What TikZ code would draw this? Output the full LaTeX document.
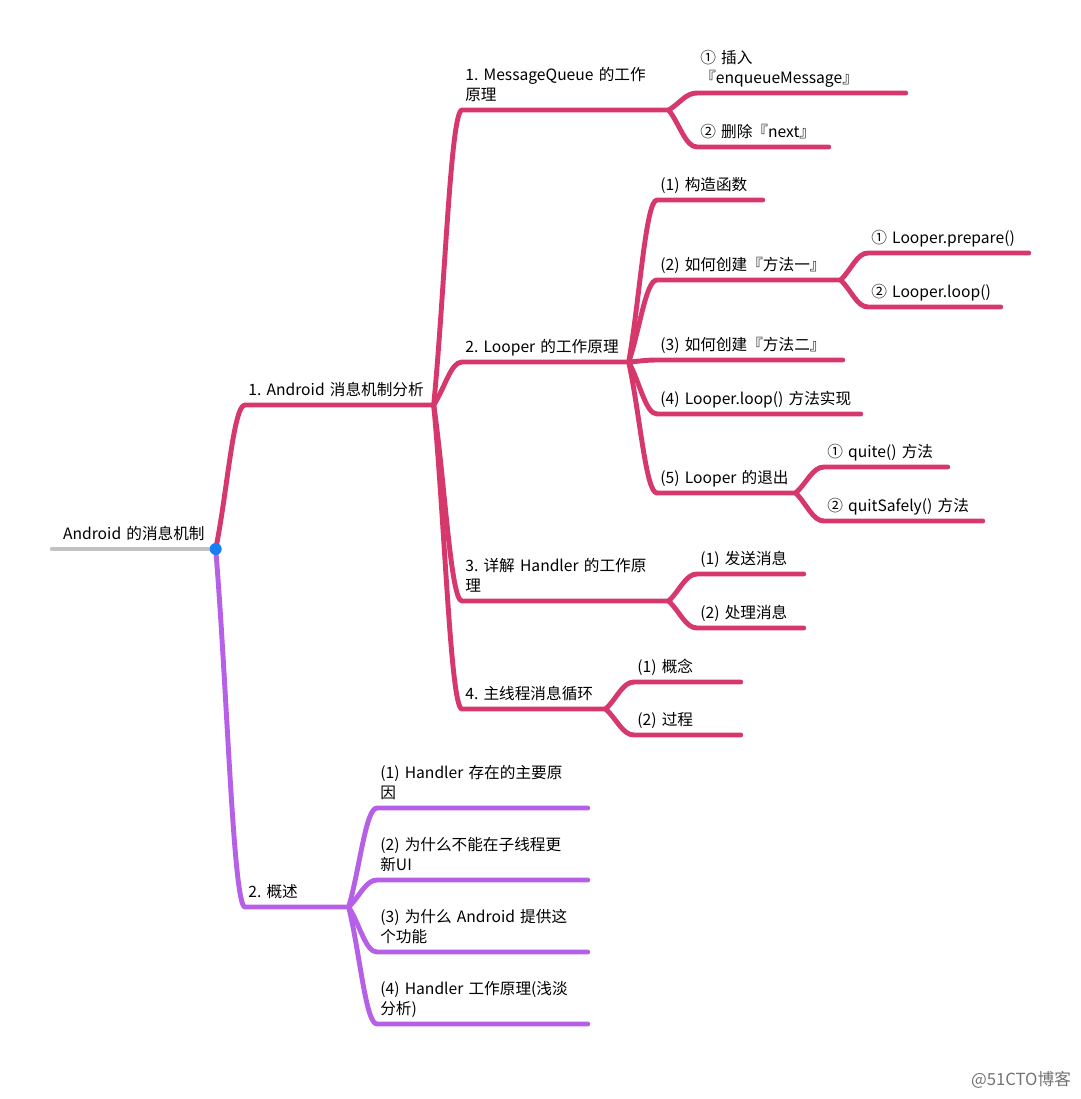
\documentclass[tikz,border=0pt]{standalone}
\usepackage{fontspec}
\setmainfont{Noto Sans CJK SC}
\usetikzlibrary{calc}
\frenchspacing
\definecolor{branchred}{HTML}{D6386C}
\definecolor{branchpurple}{HTML}{B660E8}
\definecolor{rootgray}{HTML}{C2C2C2}
\definecolor{dotblue}{HTML}{1A7FF5}
\tikzstyle{link} = [line width=2.8pt, line cap=round, line join=round]
\tikzstyle{rootline} = [line width=2.6pt, line cap=round, rootgray]
\tikzstyle{stamp} = [font=\fontsize{9.5}{11}\selectfont, text=black!55]
\tikzset{topic/.style={anchor=south west, inner xsep=0.06cm, inner ysep=2.1pt,
    text width={(#1-6)*0.02cm}, align=left,
    font=\fontsize{8.9}{11.3}\selectfont, execute at end node=\strut},
  branch/.style={to path={.. controls ($(\tikztostart)!0.4!(\tikztotarget)$)
    and ($(\tikztotarget)!0.4!(\tikztostart |- \tikztotarget)$) .. (\tikztotarget) \tikztonodes}}}

\begin{document}
\begin{tikzpicture}[x=0.02cm, y=-0.02cm]
				
				\useasboundingbox (0,0) rectangle (1080,1099);
				
				% Root
				\node[topic=163, align=center] (root) at (52,549) {Android 的消息机制};
				
				% 1. Android 消息机制分析
				\node[topic=188] (analysis) at (245,405) {1. Android 消息机制分析};
				\node[topic=206] (queue) at (462,110) {1. MessageQueue 的工作\\原理};
				\node[topic=208] (enqueue) at (697,93) {① 插入\\『enqueueMessage』};
				\node[topic=131] (next) at (697,147) {② 删除『next』};
				\node[topic=166] (looper) at (462,362) {2. Looper 的工作原理};
				\node[topic=105] (ctor) at (657,200) {(1) 构造函数};
				\node[topic=183] (create1) at (657,280) {(2) 如何创建『方法一』};
				\node[topic=160] (prepare) at (868,253) {① Looper.prepare()};
				\node[topic=132] (loop) at (868,307) {② Looper.loop()};
				\node[topic=185] (create2) at (657,360) {(3) 如何创建『方法二』};
				\node[topic=203] (loopimpl) at (657,414) {(4) Looper.loop() 方法实现};
				\node[topic=138] (quit) at (657,493) {(5) Looper 的退出};
				\node[topic=123] (quite) at (824,467) {① quite() 方法};
				\node[topic=158] (safely) at (824,521) {② quitSafely() 方法};
				\node[topic=206] (handler) at (462,601) {3. 详解 Handler 的工作原\\理};
				\node[topic=106] (send) at (697,574) {(1) 发送消息};
				\node[topic=106] (dispatch) at (697,628) {(2) 处理消息};
				\node[topic=143] (mainloop) at (462,709) {4. 主线程消息循环};
				\node[topic=106] (concept) at (634,682) {(1) 概念};
				\node[topic=106] (process) at (634,735) {(2) 过程};
				
				% 2. 概述
				\node[topic=103] (overview) at (245,907) {2. 概述};
				\node[topic=210] (reason) at (377,808) {(1) Handler 存在的主要原\\因};
				\node[topic=210] (whyui) at (377,880) {(2) 为什么不能在子线程更\\新UI};
				\node[topic=210] (whyand) at (377,952) {(3) 为什么 Android 提供这\\个功能};
				\node[topic=210] (principle) at (377,1024) {(4) Handler 工作原理(浅淡\\分析)};
				
				\node[stamp] (mark51) at (1021,1080) {@51CTO博客};
				
				% Edges
				\draw[rootline] (root.south west) -- (root.south east);
				\draw[link, branchred] (root.south east) to[branch] (analysis.south west) -- (analysis.south east);
				\foreach \t in {queue, looper, handler, mainloop}
					\draw[link, branchred] (analysis.south east) to[branch] (\t.south west) -- (\t.south east);
				\foreach \t in {enqueue, next}
					\draw[link, branchred] (queue.south east) to[branch] (\t.south west) -- (\t.south east);
				\foreach \t in {ctor, create1, create2, loopimpl, quit}
					\draw[link, branchred] (looper.south east) to[branch] (\t.south west) -- (\t.south east);
				\foreach \t in {prepare, loop}
					\draw[link, branchred] (create1.south east) to[branch] (\t.south west) -- (\t.south east);
				\foreach \t in {quite, safely}
					\draw[link, branchred] (quit.south east) to[branch] (\t.south west) -- (\t.south east);
				\foreach \t in {send, dispatch}
					\draw[link, branchred] (handler.south east) to[branch] (\t.south west) -- (\t.south east);
				\foreach \t in {concept, process}
					\draw[link, branchred] (mainloop.south east) to[branch] (\t.south west) -- (\t.south east);
				
				\draw[link, branchpurple] (root.south east) to[branch] (overview.south west) -- (overview.south east);
				\foreach \t in {reason, whyui, whyand, principle}
					\draw[link, branchpurple] (overview.south east) to[branch] (\t.south west) -- (\t.south east);
				
				\fill[dotblue] (root.south east) circle (0.12cm);
				
			\end{tikzpicture}
\end{document}
